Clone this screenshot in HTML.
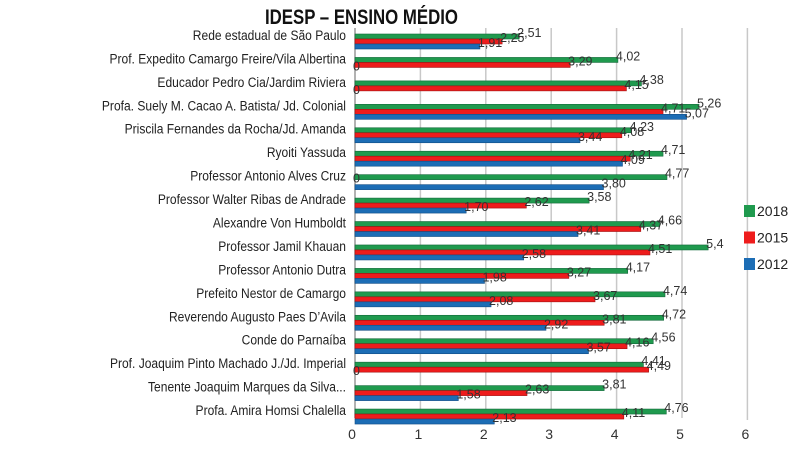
<!DOCTYPE html>
<html><head><meta charset="utf-8"><style>
html,body{margin:0;padding:0;background:#fff;width:800px;height:453px;overflow:hidden}
svg text{font-family:"Liberation Sans Narrow","Liberation Sans",sans-serif}
</style></head><body>
<svg id="chart" width="800" height="453" viewBox="0 0 800 453" xmlns="http://www.w3.org/2000/svg">
<text x="265" y="24" textLength="193" lengthAdjust="spacingAndGlyphs" font-size="21" font-weight="bold" fill="#111">IDESP – ENSINO MÉDIO</text>
<g id="grid"></g><g id="bars"></g>
<g id="cats" transform="translate(346,0) scale(0.86,1) translate(-346,0)"></g>
<g id="labels"></g>
</svg>
<script>
const categories=["Rede estadual de São Paulo","Prof. Expedito Camargo Freire/Vila Albertina","Educador Pedro Cia/Jardim Riviera","Profa. Suely M. Cacao A. Batista/ Jd. Colonial","Priscila Fernandes da Rocha/Jd. Amanda","Ryoiti Yassuda","Professor Antonio Alves Cruz","Professor Walter Ribas de Andrade","Alexandre Von Humboldt","Professor Jamil Khauan","Professor Antonio Dutra","Prefeito Nestor de Camargo","Reverendo Augusto Paes D’Avila","Conde do Parnaíba","Prof. Joaquim Pinto Machado J./Jd. Imperial","Tenente Joaquim Marques da Silva...","Profa. Amira Homsi Chalella"];
const values2018=[2.51,4.02,4.38,5.26,4.23,4.71,4.77,3.58,4.66,5.4,4.17,4.74,4.72,4.56,4.41,3.81,4.76];
const values2015=[2.25,3.29,4.15,4.71,4.08,4.21,0,2.62,4.37,4.51,3.27,3.67,3.81,4.16,4.49,2.63,4.11];
const values2012=[1.91,0,0,5.07,3.44,4.09,3.80,1.70,3.41,2.58,1.98,2.08,2.92,3.57,0,1.58,2.13];
const xTicks=[0,1,2,3,4,5,6];
const seriesNames=["2018","2015","2012"];
const seriesColors=["#1f9a4e","#ee1c1c","#1c6db5"];
const seriesStroke=["#13693a","#a01010","#124d85"];

const NS="http://www.w3.org/2000/svg";
const x0=355, xs=65.4, y0=34, gap=23.44, bh=5;
const xScale=v=>x0+v*xs;
const yScale=i=>y0+i*gap;
function mk(tag,attrs,parent,txt){const e=document.createElementNS(NS,tag);for(const k in attrs)e.setAttribute(k,attrs[k]);if(txt!==undefined)e.textContent=txt;parent.appendChild(e);return e;}
const grid=document.getElementById('grid'),bars=document.getElementById('bars'),labels=document.getElementById('labels'),cats=document.getElementById('cats');
xTicks.forEach(t=>{
  const l=mk('line',{x1:xScale(t),x2:xScale(t),y1:28,y2:t===6?420:418,stroke:t===0?'#999':'#c8c8c8','stroke-width':1.5},grid);
  
  
  const tx=mk('text',{x:xScale(t)-(t===0?3:2),y:439,'text-anchor':'middle','font-size':14,fill:'#333'},grid,String(t));
  
  
});
const series=[values2018,values2015,values2012];
categories.forEach((c,i)=>{
  const ct=mk('text',{x:346,y:yScale(i)+6,'text-anchor':'end','font-size':14,fill:'#222'},cats,c);
  
  
  series.forEach((s,k)=>{
    const v=s[i], top=yScale(i)+k*bh;
    if(v>0){
      const r=mk('rect',{x:x0,y:top,width:xScale(v)-x0,height:bh,fill:seriesColors[k],stroke:seriesStroke[k],'stroke-width':0.6},bars);
      
      
    }
    const txt=v===0?'0':(v===5.4?'5,4':v.toFixed(2).replace('.',','));
    const lt=mk('text',{x:xScale(v)-2,y:top+3,'font-size':12.5,fill:'#333'},labels,txt);
    
    
  });
});
seriesNames.forEach((n,k)=>{
  const y=205+k*26.5;
  const r=mk('rect',{x:744,y:y,width:11,height:12,fill:seriesColors[k]},labels);
  
  
  const t=mk('text',{x:757,y:y+11,'font-size':14,fill:'#222'},labels,n);
  
  
});
</script>
</body></html>
